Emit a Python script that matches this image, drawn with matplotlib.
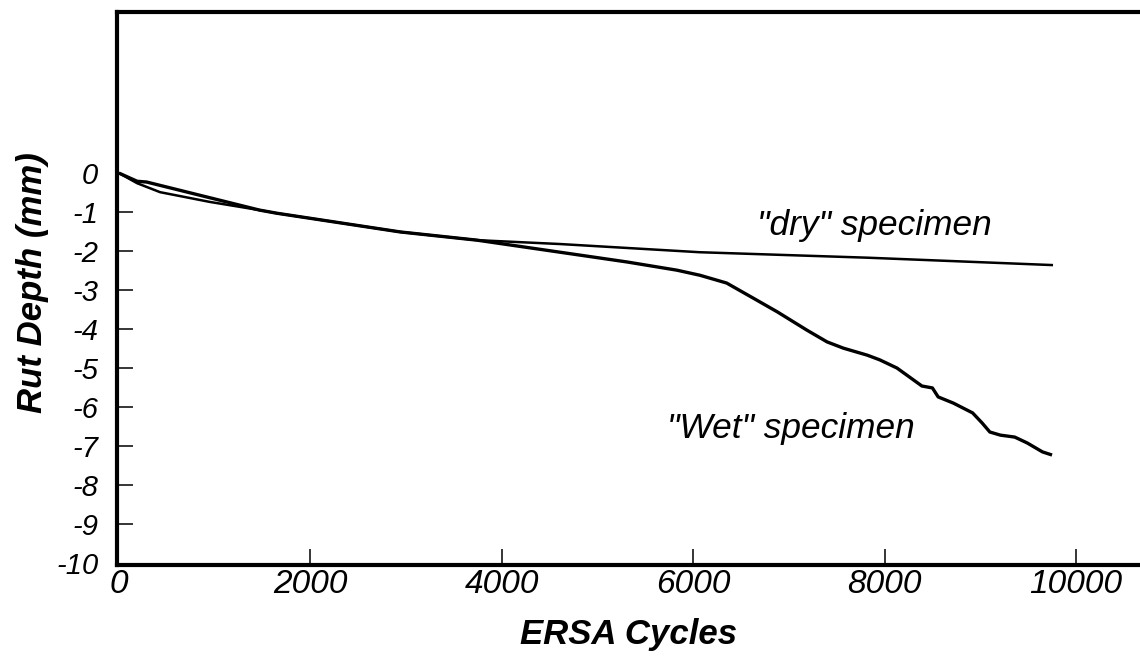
import matplotlib
matplotlib.use("Agg")
import matplotlib.pyplot as plt
from matplotlib.ticker import FixedLocator, FixedFormatter

plt.rcParams['font.family'] = ['Liberation Sans', 'DejaVu Sans']

# ---- data ----
dry_cycles = [0, 190, 430, 950, 1470, 1650, 2940, 3740, 4610, 6070, 7820, 9760]
dry_depth = [0, -0.26, -0.49, -0.74, -0.95, -1.03, -1.51, -1.72, -1.82, -2.03,
             -2.17, -2.36]

wet_cycles = [0, 190, 290, 1470, 1650, 2940, 3740, 4610, 5310, 5830, 6070,
              6350, 6630, 6880, 7190, 7400, 7570, 7820, 7950, 8130, 8390, 8500,
              8560, 8720, 8920, 9020, 9100, 9210, 9360, 9490, 9650, 9750]
wet_depth = [0, -0.21, -0.23, -0.95, -1.03, -1.51, -1.72, -2.03, -2.28,
             -2.49, -2.62, -2.82, -3.21, -3.56, -4.03, -4.33, -4.49, -4.67, -4.79,
             -5.00, -5.46, -5.51, -5.74, -5.90, -6.15, -6.41, -6.64, -6.72, -6.77,
             -6.92, -7.15, -7.23]

x_ticks = [0, 2000, 4000, 6000, 8000, 10000]
x_tick_labels = ["0", "2000", "4000", "6000", "8000", "10000"]
y_ticks = [0, -1, -2, -3, -4, -5, -6, -7, -8, -9, -10]
y_tick_labels = ["0", "-1", "-2", "-3", "-4", "-5", "-6", "-7", "-8", "-9", "-10"]

x_label = "ERSA Cycles"
y_label = "Rut Depth (mm)"
dry_note = '"dry" specimen'
wet_note = '"Wet" specimen'

# ---- figure ----
fig = plt.figure(figsize=(11.4, 6.67), dpi=100)
ax = fig.add_axes([117 / 1140, (667 - 565) / 667, 1 - 117 / 1140, (565 - 12) / 667])

ax.plot(dry_cycles, dry_depth, color='black', lw=1.8, solid_capstyle='butt',
        solid_joinstyle='round')
ax.plot(wet_cycles, wet_depth, color='black', lw=2.4, solid_capstyle='butt',
        solid_joinstyle='round')

ax.set_xlim(-20, 10669)
ax.set_ylim(-10.05, 4.13)

for side in ['top', 'left', 'bottom']:
    ax.spines[side].set_linewidth(3.0)
ax.spines['right'].set_visible(False)

ax.xaxis.set_major_locator(FixedLocator(x_ticks))
ax.xaxis.set_major_formatter(FixedFormatter(x_tick_labels))
ax.yaxis.set_major_locator(FixedLocator(y_ticks))
ax.yaxis.set_major_formatter(FixedFormatter(y_tick_labels))

ax.tick_params(axis='x', direction='in', length=11.5, width=1.1, pad=3,
               labelsize=24, top=False)
ax.tick_params(axis='y', direction='in', length=11.5, width=1.1, pad=13.5,
               labelsize=21, right=False)
for lab in ax.get_xticklabels() + ax.get_yticklabels():
    lab.set_fontstyle('italic')

# hide tick marks at the origin and at the bottom spine
ax.xaxis.get_major_ticks()[0].tick1line.set_visible(False)
ax.yaxis.get_major_ticks()[0].tick1line.set_visible(False)
ax.yaxis.get_major_ticks()[-1].tick1line.set_visible(False)

ax.set_xlabel(x_label, fontsize=25, fontweight='bold', fontstyle='italic')
ax.set_ylabel(y_label, fontsize=25, fontweight='bold', fontstyle='italic')
ax.xaxis.set_label_coords(0.5, -0.096)
ax.yaxis.set_label_coords(-0.066, 0.51)

ax.text(6667, -1.59, dry_note, fontsize=25.4, fontstyle='italic',
        ha='left', va='baseline')
ax.text(5726, -6.79, wet_note, fontsize=25.4, fontstyle='italic',
        ha='left', va='baseline')

fig.savefig("out.png", dpi=100)
